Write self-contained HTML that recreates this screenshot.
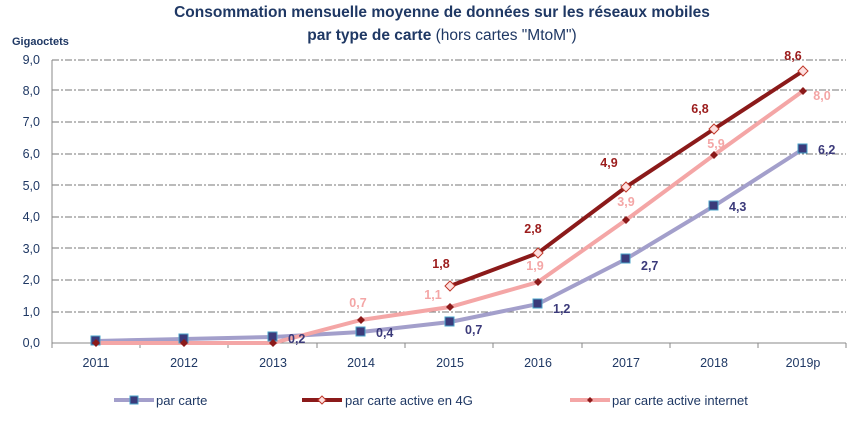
<!DOCTYPE html>
<html><head><meta charset="utf-8"><style>
body{margin:0;background:#fff;}
text{font-family:"Liberation Sans",sans-serif;}
</style></head><body>
<svg width="858" height="424" viewBox="0 0 858 424" xmlns="http://www.w3.org/2000/svg">
<text x="442" y="17" text-anchor="middle" font-size="15.5" font-weight="bold" fill="#1f3864">Consommation mensuelle moyenne de données sur les réseaux mobiles</text>
<text x="442" y="40" text-anchor="middle" font-size="15.5" fill="#1f3864"><tspan font-weight="bold">par type de carte</tspan> (hors cartes "MtoM")</text>
<text x="12" y="45" font-size="11" font-weight="bold" fill="#1f3864">Gigaoctets</text>
<g stroke="#777" stroke-width="1" stroke-dasharray="7,2,2,2">
<line x1="52" x2="846" y1="60" y2="60"/><line x1="52" x2="846" y1="90" y2="90"/><line x1="52" x2="846" y1="122" y2="122"/><line x1="52" x2="846" y1="154" y2="154"/><line x1="52" x2="846" y1="185" y2="185"/><line x1="52" x2="846" y1="217" y2="217"/><line x1="52" x2="846" y1="248" y2="248"/><line x1="52" x2="846" y1="280" y2="280"/><line x1="52" x2="846" y1="312" y2="312"/>
</g>
<g stroke="#888" stroke-width="1">
<line x1="52" x2="846" y1="343" y2="343"/><line x1="52" x2="52" y1="60" y2="348"/>
<line x1="140" x2="140" y1="343" y2="348"/><line x1="228" x2="228" y1="343" y2="348"/><line x1="317" x2="317" y1="343" y2="348"/><line x1="405" x2="405" y1="343" y2="348"/><line x1="493" x2="493" y1="343" y2="348"/><line x1="582" x2="582" y1="343" y2="348"/><line x1="670" x2="670" y1="343" y2="348"/><line x1="758" x2="758" y1="343" y2="348"/><line x1="846" x2="846" y1="343" y2="348"/>
</g>
<g font-size="12.5" fill="#1f3864" text-anchor="end">
<text x="40" y="64">9,0</text><text x="40" y="95">8,0</text><text x="40" y="126">7,0</text><text x="40" y="158">6,0</text><text x="40" y="190">5,0</text><text x="40" y="221">4,0</text><text x="40" y="253">3,0</text><text x="40" y="284">2,0</text><text x="40" y="316">1,0</text><text x="40" y="347">0,0</text>
</g>
<g font-size="12.5" fill="#1f3864" text-anchor="middle">
<text x="96" y="367">2011</text><text x="184" y="367">2012</text><text x="273" y="367">2013</text><text x="361" y="367">2014</text><text x="450" y="367">2015</text><text x="538" y="367">2016</text><text x="626" y="367">2017</text><text x="714" y="367">2018</text><text x="803" y="367">2019p</text>
</g>
<polyline fill="none" stroke="#a39fcb" stroke-width="4" points="96,341 184,339 273,337 361,332 450,322 538,304 626,259 714,206 803,149"/>
<polyline fill="none" stroke="#f4a6a6" stroke-width="4" points="96,343 184,343 273,343 361,320 450,307 538,282 626,220 714,155 803,91"/>
<polyline fill="none" stroke="#8b1a1a" stroke-width="4" points="450,286 538,253 626,187 714,129 803,71"/>
<g fill="#3b3a7a" stroke="#4aa3c8" stroke-width="1">
<rect x="91" y="336" width="9" height="9"/><rect x="179" y="334" width="9" height="9"/><rect x="268" y="332" width="9" height="9"/><rect x="356" y="327" width="9" height="9"/><rect x="445" y="317" width="9" height="9"/><rect x="533" y="299" width="9" height="9"/><rect x="621" y="254" width="9" height="9"/><rect x="709" y="201" width="9" height="9"/><rect x="798" y="144" width="9" height="9"/>
</g>
<g fill="#8b1a1a">
<path d="M96,339l4,4l-4,4l-4,-4z"/><path d="M184,339l4,4l-4,4l-4,-4z"/><path d="M273,339l4,4l-4,4l-4,-4z"/><path d="M361,316l4,4l-4,4l-4,-4z"/><path d="M450,303l4,4l-4,4l-4,-4z"/><path d="M538,278l4,4l-4,4l-4,-4z"/><path d="M626,216l4,4l-4,4l-4,-4z"/><path d="M714,151l4,4l-4,4l-4,-4z"/><path d="M803,87l4,4l-4,4l-4,-4z"/>
</g>
<g fill="#fde0e0" stroke="#c0392b" stroke-width="1">
<path d="M450,281l5,5l-5,5l-5,-5z"/><path d="M538,248l5,5l-5,5l-5,-5z"/><path d="M626,182l5,5l-5,5l-5,-5z"/><path d="M714,124l5,5l-5,5l-5,-5z"/><path d="M803,66l5,5l-5,5l-5,-5z"/>
</g>
<g font-size="12.5" font-weight="bold">
<g fill="#3b3a7a"><text x="288" y="343">0,2</text><text x="376" y="337">0,4</text><text x="465" y="334">0,7</text><text x="553" y="313">1,2</text><text x="641" y="270">2,7</text><text x="729" y="211">4,3</text><text x="818" y="154">6,2</text></g>
<g fill="#f4a6a6"><text x="358" y="307" text-anchor="middle">0,7</text><text x="433" y="299" text-anchor="middle">1,1</text><text x="535" y="270" text-anchor="middle">1,9</text><text x="626" y="206" text-anchor="middle">3,9</text><text x="716" y="148" text-anchor="middle">5,9</text><text x="822" y="100" text-anchor="middle">8,0</text></g>
<g fill="#9b1c1c" text-anchor="middle"><text x="441" y="268">1,8</text><text x="533" y="233">2,8</text><text x="609" y="167">4,9</text><text x="700" y="113">6,8</text><text x="793" y="60">8,6</text></g>
</g>
<g font-size="13" fill="#1f3864">
<line x1="114" x2="154" y1="400" y2="400" stroke="#a39fcb" stroke-width="4"/><rect x="130" y="396" width="8" height="8" fill="#3b3a7a" stroke="#4aa3c8"/><text x="156" y="405">par carte</text>
<line x1="302" x2="342" y1="400" y2="400" stroke="#8b1a1a" stroke-width="4"/><path d="M322,396l4,4l-4,4l-4,-4z" fill="#fde0e0" stroke="#c0392b"/><text x="345" y="405">par carte active en 4G</text>
<line x1="570" x2="610" y1="400" y2="400" stroke="#f4a6a6" stroke-width="4"/><path d="M590,397l3,3l-3,3l-3,-3z" fill="#8b1a1a"/><text x="612" y="405">par carte active internet</text>
</g>
</svg>
</body></html>
